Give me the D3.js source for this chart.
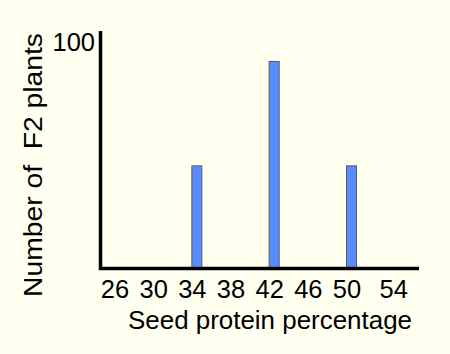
<!DOCTYPE html>
<html>
<head>
<meta charset="utf-8">
<script src="https://cdn.jsdelivr.net/npm/d3@7"></script>
<style>
  html, body { margin: 0; padding: 0; background: #fffff0; }
  svg { display: block; font-family: "Liberation Sans", Arial, sans-serif; }
  text { white-space: pre; }
</style>
</head>
<body>
<svg id="chart" width="450" height="354"></svg>
<script>
// Data
const categories = [34, 42, 50];          // seed protein percentage
const counts = [45, 91, 45];              // number of F2 plants
const xTickLabels = [26, 30, 34, 38, 42, 46, 50, 54];
const yTickLabels = [100];
const xTitle = "Seed protein percentage";
const yTitle = "Number of  F2 plants";

const svg = d3.select("#chart");
svg.append("rect").attr("width", 450).attr("height", 354).attr("fill", "#fffff0");

const x = d3.scaleLinear().domain([26, 50]).range([115, 347]);
const y = d3.scaleLinear().domain([0, 100]).range([268, 41]);

// Bars
svg.selectAll("rect.bar").data(categories).enter().append("rect")
  .attr("class", "bar")
  .attr("x", d => x(d) - 0.5)
  .attr("width", 10)
  .attr("y", (d, i) => y(counts[i]))
  .attr("height", (d, i) => y(0) - y(counts[i]))
  .attr("fill", "#5b8cff")
  .attr("stroke", "#5a5a5a")
  .attr("stroke-width", 1);

// X axis labels
const xAxis = d3.axisBottom(x).tickValues(xTickLabels).tickSize(0).tickPadding(0).tickFormat(d3.format("d"));
const gx = svg.append("g").call(xAxis);
gx.select(".domain").remove();
gx.selectAll(".tick").attr("transform", d => `translate(${x(d) + (d === 54 ? 8 : 0)},0)`);
gx.selectAll("text")
  .attr("y", 298).attr("dy", null)
  .attr("font-size", 25.5).attr("fill", "#000")
  .attr("font-family", "Liberation Sans, Arial, sans-serif");

// Y axis labels
const yAxis = d3.axisLeft(y).tickValues(yTickLabels).tickSize(0).tickPadding(0);
const gy = svg.append("g").call(yAxis);
gy.select(".domain").remove();
gy.selectAll("text")
  .attr("x", 95).attr("y", 9).attr("dy", null)
  .attr("font-size", 25.5).attr("fill", "#000")
  .attr("font-family", "Liberation Sans, Arial, sans-serif");

// Axis lines
svg.append("line")
  .attr("x1", 100.5).attr("x2", 100.5)
  .attr("y1", 31).attr("y2", 270)
  .attr("stroke", "#000").attr("stroke-width", 3.5);
svg.append("line")
  .attr("x1", 99).attr("x2", 419)
  .attr("y1", 268.5).attr("y2", 268.5)
  .attr("stroke", "#000").attr("stroke-width", 3.5);

// Titles
svg.append("text")
  .attr("x", 270).attr("y", 329)
  .attr("text-anchor", "middle")
  .attr("font-size", 25.5).attr("fill", "#000")
  .attr("textLength", 284).attr("lengthAdjust", "spacingAndGlyphs")
  .text(xTitle);
svg.append("text")
  .attr("transform", "translate(42,165) rotate(-90)")
  .attr("text-anchor", "middle")
  .attr("font-size", 25.5).attr("fill", "#000")
  .attr("textLength", 264).attr("lengthAdjust", "spacingAndGlyphs")
  .text(yTitle);
</script>
</body>
</html>
